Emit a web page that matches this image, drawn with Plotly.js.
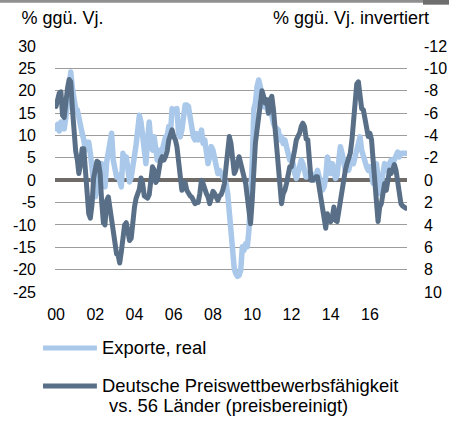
<!DOCTYPE html>
<html>
<head>
<meta charset="utf-8">
<script src="https://cdn.plot.ly/plotly-3.0.1.min.js"></script>
<style>
  html, body { margin: 0; padding: 0; background: #fff; }
  #chart { width: 449px; height: 421px; }
  .js-line { stroke-linejoin: round; stroke-linecap: round; }
</style>
</head>
<body>
<div id="chart"></div>
<script>
// Monthly data, Jan 2000 onward
const startYear = 2000;
const seriesNames = ["Exporte, real", "Deutsche Preiswettbewerbsfähigkeit", "vs. 56 Länder (preisbereinigt)"];
const axisTitles = ["% ggü. Vj.", "% ggü. Vj. invertiert"];

// Tick labels (plain hyphen minus as in the original)
const leftTickVals = [30, 25, 20, 15, 10, 5, 0, -5, -10, -15, -20, -25];
const leftTickText = ["30", "25", "20", "15", "10", "5", "0", "-5", "-10", "-15", "-20", "-25"];
const rightTickVals = [-12, -10, -8, -6, -4, -2, 0, 2, 4, 6, 8, 10];
const rightTickText = ["-12", "-10", "-8", "-6", "-4", "-2", "0", "2", "4", "6", "8", "10"];

// Exporte, real (% ggü. Vj., left axis)
const exporte = [
  11.5, 12.5, 11, 13, 12, 11.5, 14, 18, 22, 24.2,
  20.5, 16.8, 16, 15.7, 13.5, 11.5, 10.5, 9, 6.7, 8.5,
  8.5, 6, 2.5, -1.5, -3.7, -2.2, 0.7, 3.4, 3.7, 1,
  -1.5, 4, 7, 8, 10.5, 4.5, 2, 0.7, 1.2, -0.7,
  -1.5, 6, 3.7, 5.2, 3, -0.4, 0.7, 4.5, 5.5, 8,
  12, 14.5, 13, 9, 4.5, 3.7, 9, 13, 8.2, 6.7,
  9.7, 6, 4.5, 6.7, 6, 6.7, 9, 9.7, 10, 12,
  10.4, 16, 15.7, 15.7, 16, 10.4, 9.7, 11.2, 15.7, 16.8,
  16.8, 16.5, 14.2, 10.8, 9.7, 9, 10.4, 9, 9.7, 11.2,
  8.2, 9, 6.7, 3.7, 5.2, 7.5, 6.7, 4.5, 3.7, 1.5,
  2.2, 1.5, 0.7, 0, -0.7, -3, -7.5, -12.7, -17.2, -19.8,
  -20.9, -21.5, -21.3, -20.1, -14.9, -15.7, -14.2, -14.9, -11.2, -4.5,
  3.7, 16, 17.2, 20.9, 22.4, 20.9, 17.9, 16.4, 17.2, 15.7,
  14.9, 16.4, 13.4, 12.7, 11.9, 11.5, 11.2, 9, 9.7, 8.2,
  9, 7.5, 6, 4.5, 4.9, 3.7, 1.5, 0.4, 1.5, 3,
  4.5, 3.7, 2.2, 0.7, 1.5, 1.1, 1.5, 0.7, 0, 1.1,
  2.2, 0.7, -0.7, -2.2, -1.5, 0.7, 5.2, 3, 1.5, 3.7,
  2.2, 0.4, 1.1, 4.5, 7.5, 6, 4.5, 2.2, 3, 2.2,
  3.7, 4.5, 3.7, 5.2, 7.5, 9, 9.7, 6.7, 5.2, 3.7,
  3, 2.2, 3, 1.5, -0.7, 0.7, 3.7, 0.7, -3, -0.7,
  2.2, 3.7, 2.2, 3, 3.7, 4.5, 3.7, 4.5, 5.2, 6.3,
  5.2, 6, 6, 6, 6
];

// Deutsche Preiswettbewerbsfähigkeit (% ggü. Vj., right axis, inverted)
const preiswettbewerb = [
  -6.6, -7.2, -7.8, -7.9, -5.8, -5.6, -7.2, -8.2, -9.0, -8.8,
  -6.4, -4.0, -2.6, -1.8, -0.6, -1.4, -2.8, -2.8, -0.6, 1.4,
  3.0, 3.4, 2.2, -0.2, -1.4, -1.7, -1.6, -0.6, 2.0, 3.8,
  4.0, 1.8, 1.5, 2.6, 2.9, 4.2, 5.8, 6.6, 6.7, 7.4,
  6.4, 4.6, 4.0, 3.8, 4.4, 5.4, 5.2, 3.5, 2.4, 1.6,
  1.2, 0.8, -0.2, 0.3, 1.4, 1.5, 1.6, 1.3, -0.2, -1.2,
  -0.9, 0.2, 0, -1.0, -1.8, -2.1, -1.8, -2.1, -2.6, -3.6,
  -4.3, -4.5, -3.9, -3.6, -3.0, -1.6, 0.2, 0.9, 0.2, 0.2,
  0.9, 1.2, 1.4, 1.5, 1.8, 2.1, 2.0, 2.0, 1.2, 0,
  0.3, 0.9, 1.2, 1.5, 2.1, 1.6, 1.0, 1.2, 1.6, 1.8,
  1.4, 1.3, 0.9, 0.3, -1.2, -2.7, -3.9, -3.3, -1.5, -0.6,
  -0.9, -1.8, -2.1, -1.5, -0.6, -0.3, 0.3, 1.5, 3.0, 3.9,
  1.8, -1.5, -3.3, -4.5, -5.7, -7.2, -8.0, -7.5, -6.9, -7.2,
  -6.0, -7.2, -7.5, -6.3, -4.8, -2.7, -0.6, 1.2, 2.1, 1.2,
  0.9, 0.3, -0.9, -1.2, -1.2, -1.8, -2.7, -3.6, -3.9, -4.2,
  -4.8, -5.1, -4.8, -3.7, -3.6, -2.1, 0, 0, -0.2, -0.3,
  -0.3, 0.6, 1.5, 2.7, 3.9, 4.3, 3.0, 3.6, 3.7, 3.3,
  2.4, 3.6, 3.7, 2.7, 1.5, 0.9, 0, -0.9, -1.5, -2.1,
  -2.4, -3.6, -5.4, -6.9, -8.6, -8.8, -7.5, -6.4, -6.3, -5.4,
  -4.2, -3.9, -4.2, -3.6, -1.8, 0.3, 2.7, 3.7, 2.4, 2.1,
  1.2, 0.3, 0.9, -0.3, -0.9, -0.6, -1.2, -1.4, -0.9, 0.3,
  1.5, 2.1, 2.3, 2.4, 2.5
];

function monthDates(n) {
  const out = [];
  for (let i = 0; i < n; i++) {
    const y = startYear + Math.floor(i / 12);
    const m = (i % 12) + 1;
    out.push(y + "-" + (m < 10 ? "0" + m : m) + "-01");
  }
  return out;
}

const LIGHT = "#a9c8ea";
const DARK = "#586f87";
const FONT = "Liberation Sans, Arial, sans-serif";
const TICKFONT = { size: 16, family: FONT, color: "#000" };
const TITLEFONT = { size: 18, family: FONT, color: "#000" };
const TEXTFONT = { size: 18.4, family: FONT, color: "#000" };

const traces = [
  {
    x: monthDates(exporte.length), y: exporte, type: "scatter", mode: "lines",
    name: seriesNames[0], yaxis: "y",
    line: { color: LIGHT, width: 5.5 }, hoverinfo: "skip", showlegend: false
  },
  {
    x: monthDates(preiswettbewerb.length), y: preiswettbewerb, type: "scatter", mode: "lines",
    name: seriesNames[1], yaxis: "y2",
    line: { color: DARK, width: 5 }, hoverinfo: "skip", showlegend: false
  }
];

const layout = {
  width: 449, height: 421,
  margin: { l: 55, r: 42, t: 46, b: 129, pad: 0, autoexpand: false },
  paper_bgcolor: "#fff", plot_bgcolor: "#fff",
  font: { family: FONT, size: 16, color: "#000" },
  showlegend: false,
  title: {
    text: axisTitles[0], font: TITLEFONT,
    xref: "container", yref: "container",
    x: 0.048, xanchor: "left", y: 0.957, yanchor: "middle",
    pad: { t: 0, b: 0, l: 0, r: 0 }
  },
  xaxis: {
    type: "date",
    range: ["1999-12-13", "2017-11-22"],
    tick0: "2000-01-01", dtick: "M24", tickformat: "%y",
    showgrid: false, zeroline: false, showline: false, ticks: "",
    tickfont: TICKFONT,
    ticklabelstandoff: 11
  },
  yaxis: {
    range: [-25, 30], tickmode: "array", tickvals: leftTickVals, ticktext: leftTickText,
    showgrid: true, gridcolor: "#9c9c9c", gridwidth: 1,
    zeroline: true, zerolinecolor: "#6f6b68", zerolinewidth: 4,
    showline: false, ticks: "",
    tickfont: TICKFONT,
    ticklabelstandoff: 18
  },
  yaxis2: {
    overlaying: "y", side: "right",
    range: [10, -12], tickmode: "array", tickvals: rightTickVals, ticktext: rightTickText,
    showgrid: false, zeroline: false, showline: false, ticks: "",
    tickfont: TICKFONT,
    ticklabelstandoff: 16
  },
  shapes: [
    { type: "rect", xref: "paper", yref: "paper", x0: -0.16, x1: 1.0455, y0: 1.176, y1: 1.19,
      line: { width: 0 }, fillcolor: "#8f8f8f" },
    { type: "rect", xref: "paper", yref: "paper", x0: 1.0455, x1: 1.12, y0: 1.168, y1: 1.19,
      line: { width: 0 }, fillcolor: "#6e6e6e" },
    { type: "line", xref: "paper", yref: "paper", x0: -0.034, x1: 0.119, y0: -0.2276, y1: -0.2276,
      line: { color: LIGHT, width: 5 } },
    { type: "line", xref: "paper", yref: "paper", x0: -0.034, x1: 0.119, y0: -0.3821, y1: -0.3821,
      line: { color: DARK, width: 5 } }
  ],
  annotations: [
    { text: axisTitles[1], xref: "paper", yref: "paper", x: 1.068, y: 1.1138,
      xanchor: "right", yanchor: "middle", showarrow: false, font: TITLEFONT },
    { text: seriesNames[0], xref: "paper", yref: "paper", x: 0.127, y: -0.2276,
      xanchor: "left", yanchor: "middle", showarrow: false, font: TEXTFONT },
    { text: seriesNames[1], xref: "paper", yref: "paper", x: 0.127, y: -0.3821,
      xanchor: "left", yanchor: "middle", showarrow: false, font: TEXTFONT },
    { text: seriesNames[2], xref: "paper", yref: "paper", x: 0.147, y: -0.4634,
      xanchor: "left", yanchor: "middle", showarrow: false, font: TEXTFONT }
  ]
};

Plotly.newPlot("chart", traces, layout, { displayModeBar: false, staticPlot: true });
</script>
</body>
</html>
